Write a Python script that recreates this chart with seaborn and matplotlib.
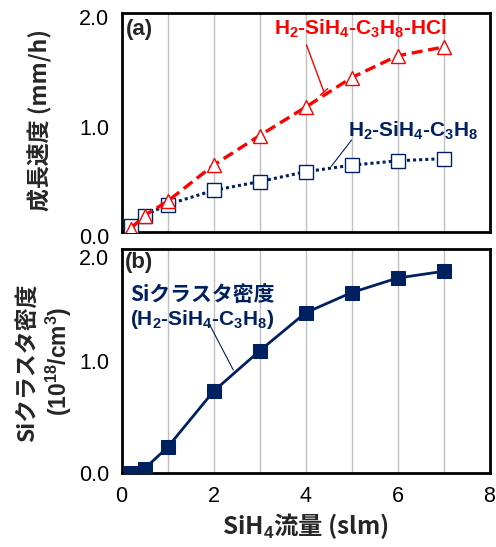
import matplotlib
matplotlib.use("Agg")
import matplotlib.pyplot as plt
import matplotlib.transforms as mt
import seaborn as sns
import pandas as pd
import numpy as np

sns.set_theme(style="white")
plt.rcParams['font.family'] = ['Liberation Sans', 'Noto Sans CJK JP', 'DejaVu Sans']
plt.rcParams['mathtext.fontset'] = 'custom'
plt.rcParams['mathtext.rm'] = 'Liberation Sans'
plt.rcParams['mathtext.bf'] = 'Liberation Sans:bold'

# Data
sih4_flow = [0.2, 0.5, 1, 2, 3, 4, 5, 6, 7]
rate_hcl = [0.03, 0.15, 0.28, 0.61, 0.88, 1.14, 1.41, 1.61, 1.69]
rate_no_hcl = [0.05, 0.15, 0.25, 0.38, 0.46, 0.55, 0.61, 0.65, 0.67]
cluster_density = [0.0, 0.04, 0.23, 0.73, 1.09, 1.43, 1.61, 1.74, 1.80]
x_ticklabels = ["0", "", "2", "", "4", "", "6", "", "8"]
y_ticklabels = ["0.0", "", "1.0", "", "2.0"]

RED = "#ff0000"
NAVY = "#002060"

df = pd.DataFrame({"flow": sih4_flow, "hcl": rate_hcl, "nohcl": rate_no_hcl, "dens": cluster_density})

fig = plt.figure(figsize=(4.96, 5.47), dpi=100)
ax1 = fig.add_axes([0.245, 0.576, 0.742, 0.400])
ax2 = fig.add_axes([0.245, 0.135, 0.742, 0.410])

jp = ['Noto Sans CJK JP', 'Liberation Sans']

# Top panel
sns.lineplot(data=df, x="flow", y="nohcl", ax=ax1, color=NAVY, linestyle=(0, (1, 1)), lw=2.2,
             marker="s", markersize=9.5, markerfacecolor="white", markeredgecolor=NAVY,
             markeredgewidth=1.0, zorder=3)
sns.lineplot(data=df, x="flow", y="hcl", ax=ax1, color=RED, linestyle=(0, (3.3, 1.7)), lw=2.4,
             marker="^", markersize=10, markerfacecolor="white", markeredgecolor=RED,
             markeredgewidth=1.0, zorder=4)

# Bottom panel
sns.lineplot(data=df, x="flow", y="dens", ax=ax2, color=NAVY, lw=2.0,
             marker="s", markersize=9.5, markerfacecolor=NAVY, markeredgecolor=NAVY, zorder=3)

for ax in (ax1, ax2):
    ax.set_xlim(0, 8)
    ax.set_ylim(0, 2.0)
    ax.set_xticks(np.arange(0, 9, 1))
    ax.set_yticks(np.arange(0, 2.01, 0.5))
    ax.set_yticklabels(y_ticklabels)
    for gx in range(1, 8):
        ax.axvline(gx, color="#c0c0c0", lw=1.0, zorder=0)
    ax.tick_params(direction="in", length=5, width=1.5, labelsize=15.5, colors="black")
    ax.tick_params(axis="y", pad=9)
    ax.tick_params(axis="x", pad=9, length=6)
    for s in ax.spines.values():
        s.set_linewidth(2.0)
        s.set_color("black")
    ax.set_xlabel("")
    ax.set_ylabel("")

ax1.set_xticklabels([])
ax2.set_xticklabels(x_ticklabels)

# Small downward offsets of y tick labels as in the reference
for t in ax1.yaxis.get_major_ticks():
    t.label1.set_transform(t.label1.get_transform() + mt.ScaledTranslation(0, -4 / 100, fig.dpi_scale_trans))
top_tick = ax2.yaxis.get_major_ticks()[-1]
top_tick.label1.set_transform(top_tick.label1.get_transform() + mt.ScaledTranslation(0, -8 / 100, fig.dpi_scale_trans))

ax1.text(0.09, 1.95, "(a)", fontsize=16, fontweight="bold", va="top", ha="left")
ax2.text(0.07, 1.97, "(b)", fontsize=16, fontweight="bold", va="top", ha="left")

# Annotations top
ax1.text(5.2, 1.86, r"$\mathbf{H_2}$-$\mathbf{SiH_4}$-$\mathbf{C_3H_8}$-HCl", color=RED, fontsize=15,
         fontweight="bold", ha="center", va="center")
ax1.plot([4.02, 4.40], [1.71, 1.28], color=RED, lw=1.0)
ax1.plot([4.32, 4.48], [1.25, 1.31], color=RED, lw=1.0)
ax1.text(6.35, 0.92, r"$\mathbf{H_2}$-$\mathbf{SiH_4}$-$\mathbf{C_3H_8}$", color=NAVY, fontsize=15,
         fontweight="bold", ha="center", va="center")
ax1.plot([5.0, 4.56], [0.84, 0.60], color=NAVY, lw=0.8)

# Annotations bottom
ax2.text(0.18, 1.59, "Siクラスタ密度", color=NAVY, fontsize=15, fontweight="bold",
         family=jp, ha="left", va="center")
ax2.text(0.18, 1.37, r"($\mathbf{H_2}$-$\mathbf{SiH_4}$-$\mathbf{C_3H_8}$)", color=NAVY, fontsize=15,
         fontweight="bold", ha="left", va="center")
ax2.plot([1.92, 2.43], [1.32, 0.92], color=NAVY, lw=0.8)

# Axis labels
fig.text(0.082, 0.78, "成長速度 (mm/h)", rotation=90, fontsize=16.5, fontweight="bold",
         family=jp, ha="center", va="center")
fig.text(0.056, 0.336, "Siクラスタ密度", rotation=90, fontsize=16.5, fontweight="bold",
         family=jp, ha="center", va="center")
fig.text(0.118, 0.34, r"($\mathbf{10^{18}}$/cm$^\mathbf{3}$)", rotation=90, fontsize=16.5,
         fontweight="bold", ha="center", va="center")
ax2.set_xlabel("SiH$_\\mathbf{4}$流量 (slm)", fontsize=17.5, fontweight="bold", family=jp, labelpad=3)

fig.savefig("out.png", dpi=100)
